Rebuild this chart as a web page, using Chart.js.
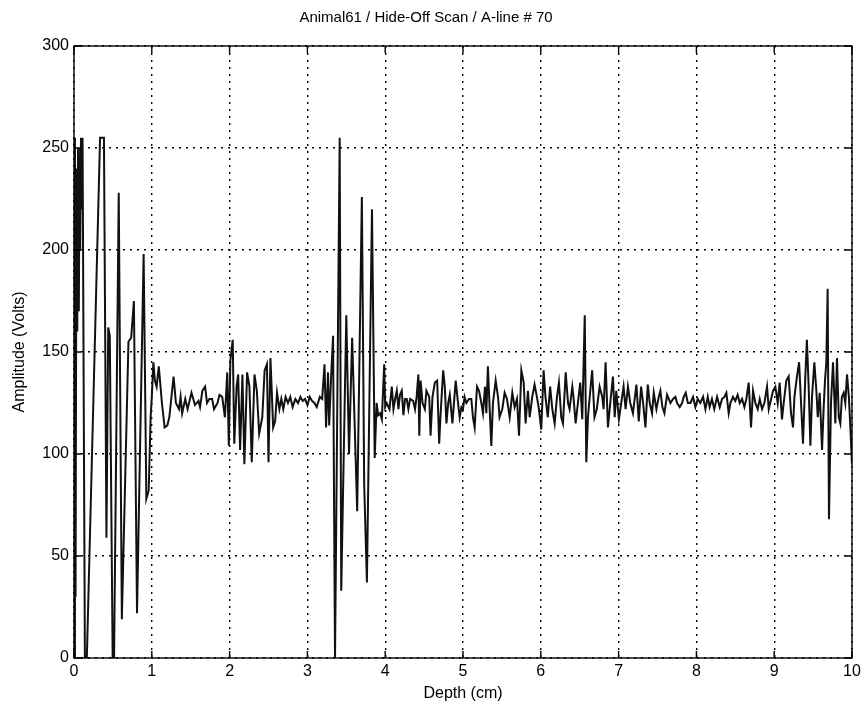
<!DOCTYPE html>
<html>
<head>
<meta charset="utf-8">
<title>Animal61 / Hide-Off Scan / A-line # 70</title>
<script src="https://cdn.jsdelivr.net/npm/chart.js@4/dist/chart.umd.min.js"></script>
<style>
html, body { margin: 0; padding: 0; background: #fff; }
#aline { display: block; }
</style>
</head>
<body>
<canvas id="aline" width="865" height="713"></canvas>
<script>
var chartTitle = "Animal61 / Hide-Off Scan / A-line # 70";
var xTitle = "Depth (cm)";
var yTitle = "Amplitude (Volts)";
var xTickValues = [0, 1, 2, 3, 4, 5, 6, 7, 8, 9, 10];
var yTickValues = [0, 50, 100, 150, 200, 250, 300];

// depth (cm) and amplitude (V)
var depthCm = [
    0, 0.012, 0.02, 0.032, 0.042, 0.052, 0.062, 0.072, 0.08, 0.09, 0.1, 0.11, 0.14, 0.165,
    0.335, 0.385, 0.417, 0.44, 0.46, 0.497, 0.515, 0.575, 0.615, 0.7, 0.735, 0.77, 0.81,
    0.895, 0.93, 0.96, 0.985,
    1.0, 1.02, 1.04, 1.062, 1.09, 1.13, 1.165, 1.2, 1.225, 1.28, 1.31, 1.35, 1.37, 1.39,
    1.43, 1.46, 1.51, 1.555, 1.6, 1.62, 1.65, 1.685, 1.71, 1.74, 1.775, 1.8, 1.845, 1.87,
    1.905, 1.94, 1.97, 1.99,
    2.01, 2.04, 2.06, 2.09, 2.11, 2.135, 2.165, 2.19, 2.225, 2.255, 2.285, 2.32, 2.35, 2.38,
    2.42, 2.45, 2.48, 2.5, 2.525, 2.56, 2.585, 2.61, 2.64, 2.665, 2.69, 2.72, 2.75, 2.78,
    2.81, 2.845, 2.88, 2.91, 2.94, 2.97,
    3.0, 3.03, 3.06, 3.09, 3.12, 3.16, 3.19, 3.22, 3.24, 3.265, 3.28, 3.305, 3.33, 3.355,
    3.415, 3.435, 3.5, 3.535, 3.575, 3.64, 3.7, 3.73, 3.765, 3.83, 3.865, 3.89, 3.91, 3.935,
    3.957, 3.987,
    4.0, 4.02, 4.055, 4.085, 4.106, 4.128, 4.149, 4.17, 4.19, 4.213, 4.234, 4.255, 4.277,
    4.298, 4.32, 4.36, 4.383, 4.404, 4.426, 4.438, 4.455, 4.48, 4.51, 4.53, 4.566, 4.583,
    4.608, 4.638, 4.668, 4.694, 4.71, 4.745, 4.766, 4.787, 4.81, 4.83, 4.864, 4.906, 4.936,
    4.957, 4.98,
    5.0, 5.02, 5.043, 5.077, 5.107, 5.128, 5.15, 5.18, 5.206, 5.236, 5.257, 5.283, 5.3, 5.32,
    5.343, 5.364, 5.385, 5.42, 5.45, 5.47, 5.505, 5.535, 5.565, 5.6, 5.634, 5.664, 5.694,
    5.72, 5.75, 5.78, 5.805, 5.835, 5.857, 5.89, 5.92, 5.95, 5.976,
    6.006, 6.036, 6.06, 6.09, 6.12, 6.148, 6.178, 6.208, 6.233, 6.263, 6.285, 6.32, 6.35,
    6.37, 6.405, 6.42, 6.448, 6.477, 6.507, 6.533, 6.565, 6.585, 6.606, 6.636, 6.66, 6.69,
    6.72, 6.756, 6.79, 6.807, 6.833, 6.863, 6.893, 6.927, 6.95, 6.97,
    7.004, 7.034, 7.064, 7.09, 7.12, 7.15, 7.184, 7.229, 7.259, 7.289, 7.315, 7.345, 7.375,
    7.4, 7.43, 7.452, 7.486, 7.516, 7.537, 7.563, 7.589, 7.623, 7.645, 7.666, 7.7, 7.73,
    7.752, 7.786, 7.816, 7.837, 7.863, 7.89, 7.923, 7.957, 7.987,
    8.017, 8.05, 8.086, 8.116, 8.146, 8.17, 8.2, 8.23, 8.266, 8.3, 8.33, 8.36, 8.385, 8.415,
    8.437, 8.47, 8.5, 8.53, 8.557, 8.587, 8.617, 8.642, 8.672, 8.702, 8.728, 8.758, 8.788,
    8.814, 8.844, 8.874, 8.908, 8.93, 8.96, 8.985,
    9.015, 9.045, 9.07, 9.1, 9.122, 9.156, 9.186, 9.216, 9.242, 9.26, 9.293, 9.32, 9.345,
    9.37, 9.4, 9.42, 9.443, 9.465, 9.486, 9.516, 9.542, 9.56, 9.585, 9.615, 9.636, 9.653,
    9.67, 9.687, 9.704, 9.73, 9.756, 9.786, 9.807, 9.83, 9.85, 9.87, 9.893, 9.914, 9.936,
    9.96, 9.98, 10.0
];
var amplitudeVolts = [
    0, 255, 30, 240, 160, 250, 170, 245, 200, 255, 220, 255, 0, 0,
    255, 255, 59, 162, 158, 0, 0, 228, 19, 155, 157, 175, 22,
    198, 78, 82, 118,
    128, 145, 136, 133, 143, 125, 113, 114, 118, 138, 125, 122, 128, 120,
    127, 122, 130, 124, 126, 123, 131, 133, 125, 127, 127, 122, 125, 129,
    128, 118, 140, 104,
    146, 156, 105, 133, 139, 102, 139, 95, 140, 133, 96, 139, 131, 110,
    118, 141, 144, 96, 147, 113, 116, 130, 122, 127, 122, 128, 125, 128,
    123, 127, 125, 128, 126, 127,
    124, 128, 126, 125, 123, 128, 127, 144, 113, 140, 114, 138, 158, 0,
    255, 33, 168, 100, 157, 72, 226, 85, 37, 220, 98, 125, 119, 120,
    117, 144,
    123, 125, 122, 133, 122, 127, 131, 122, 129, 131, 119, 127, 127,
    122, 127, 126, 122, 128, 139, 109, 136, 125, 122, 131, 128, 109,
    128, 135, 136, 105, 118, 141, 133, 115, 125, 129, 115, 136, 125,
    118, 123,
    122, 128, 125, 127, 127, 118, 113, 133, 131, 125, 120, 133, 120, 143,
    122, 104, 125, 136, 128, 118, 122, 130, 127, 118, 130, 123, 127,
    109, 141, 135, 115, 131, 118, 128, 134, 128, 122,
    112, 141, 128, 118, 133, 122, 115, 128, 135, 118, 115, 140, 125,
    122, 133, 128, 115, 125, 135, 117, 168, 96, 118, 131, 141, 118,
    122, 133, 128, 122, 145, 113, 125, 138, 118, 131,
    117, 125, 133, 122, 133, 125, 120, 134, 116, 133, 125, 113, 134,
    125, 120, 130, 122, 128, 131, 123, 120, 129, 127, 125, 127, 128,
    125, 123, 125, 128, 130, 125, 125, 128, 123,
    127, 125, 128, 122, 128, 123, 127, 122, 128, 123, 127, 128, 130, 120,
    125, 128, 126, 129, 125, 127, 123, 127, 135, 113, 131, 125, 122,
    127, 122, 125, 133, 122, 127, 131,
    133, 125, 135, 117, 125, 136, 138, 120, 113, 128, 138, 145, 125,
    105, 138, 156, 133, 104, 128, 145, 131, 118, 130, 102, 123, 136,
    145, 181, 68, 125, 145, 115, 147, 118, 115, 128, 130, 125, 139,
    128, 112, 95
];

var fontFamily = "'Liberation Sans', Arial, Helvetica, sans-serif";

var points = depthCm.map(function (d, i) {
    return {x: d, y: amplitudeVolts[i]};
});

// box round the axes with inward ticks on all four sides, like the old plot
var frameBox = {
    id: 'frameBox',
    afterDatasetsDraw: function (chart) {
        var ctx = chart.ctx;
        var a = chart.chartArea;
        var xs = chart.scales.x;
        var ys = chart.scales.y;
        var len = 7;
        ctx.save();
        ctx.strokeStyle = '#000';
        ctx.lineWidth = 1.4;
        ctx.setLineDash([]);
        ctx.strokeRect(a.left, a.top, a.right - a.left, a.bottom - a.top);
        ctx.beginPath();
        xTickValues.forEach(function (v) {
            var px = xs.getPixelForValue(v);
            ctx.moveTo(px, a.bottom);
            ctx.lineTo(px, a.bottom - len);
            ctx.moveTo(px, a.top);
            ctx.lineTo(px, a.top + len);
        });
        yTickValues.forEach(function (v) {
            var py = ys.getPixelForValue(v);
            ctx.moveTo(a.left, py);
            ctx.lineTo(a.left + len, py);
            ctx.moveTo(a.right, py);
            ctx.lineTo(a.right - len, py);
        });
        ctx.stroke();
        ctx.restore();
    }
};

var oAlineChart = new Chart(document.getElementById('aline'), {
    type: 'line',
    data: {
        datasets: [{
            data: points,
            borderColor: '#111',
            borderWidth: 2,
            pointRadius: 0,
            tension: 0,
            fill: false
        }]
    },
    options: {
        responsive: false,
        animation: false,
        layout: {padding: {left: 0, right: 13, top: 0, bottom: 0}},
        plugins: {
            legend: {display: false},
            tooltip: {enabled: false},
            title: {
                display: true,
                text: chartTitle,
                color: '#000',
                font: {family: fontFamily, size: 15, weight: 'normal'},
                padding: {top: 9, bottom: 19}
            }
        },
        scales: {
            x: {
                type: 'linear',
                min: 0,
                max: 10,
                afterBuildTicks: function (scale) {
                    scale.ticks = xTickValues.map(function (v) { return {value: v}; });
                },
                afterFit: function (scale) { scale.height = 55; },
                ticks: {
                    color: '#000',
                    font: {family: fontFamily, size: 16},
                    padding: 4,
                    maxRotation: 0,
                    autoSkip: false
                },
                grid: {color: '#000', lineWidth: 1.4, drawTicks: false},
                border: {display: false, dash: [2, 5]},
                title: {
                    display: true,
                    text: xTitle,
                    color: '#000',
                    font: {family: fontFamily, size: 16},
                    padding: {top: 0, bottom: 10}
                }
            },
            y: {
                type: 'linear',
                min: 0,
                max: 300,
                afterBuildTicks: function (scale) {
                    scale.ticks = yTickValues.map(function (v) { return {value: v}; });
                },
                afterFit: function (scale) { scale.width = 74; },
                ticks: {
                    color: '#000',
                    font: {family: fontFamily, size: 16},
                    padding: 5
                },
                grid: {color: '#000', lineWidth: 1.4, drawTicks: false},
                border: {display: false, dash: [2, 5]},
                title: {
                    display: true,
                    text: yTitle,
                    color: '#000',
                    font: {family: fontFamily, size: 16},
                    padding: {top: 10, bottom: 0}
                }
            }
        }
    },
    plugins: [frameBox]
});
</script>
</body>
</html>
